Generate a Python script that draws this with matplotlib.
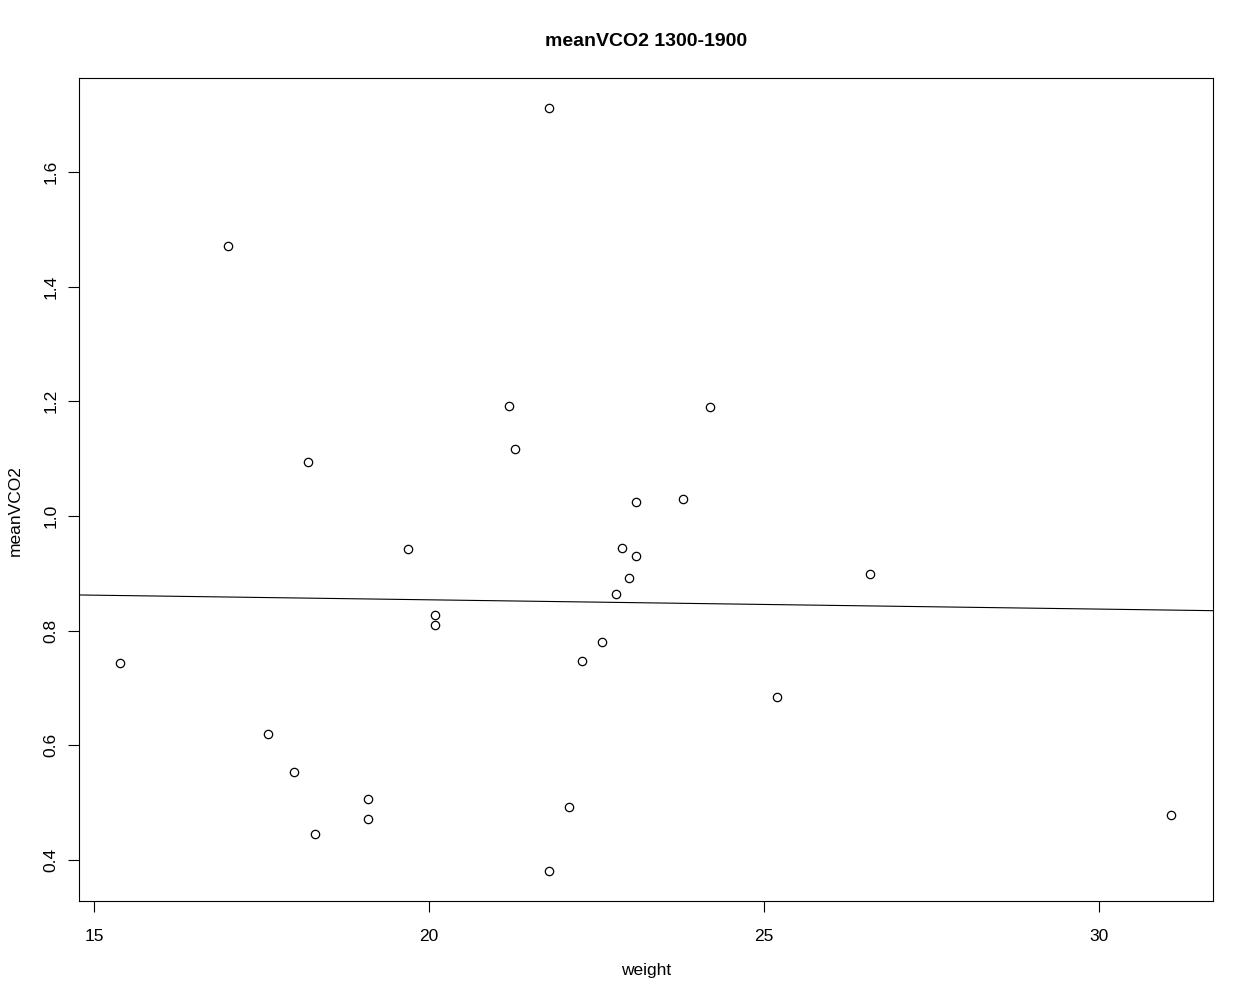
import matplotlib
matplotlib.use('Agg')
import matplotlib.pyplot as plt
import numpy as np

plt.rcParams['font.family'] = ['Liberation Sans', 'DejaVu Sans']

# weight vs meanVCO2
weight = [15.39, 17.0, 17.6, 17.99, 18.19, 18.30, 19.09, 19.09, 19.69, 20.09,
          20.09, 21.19, 21.28, 21.79, 21.79, 22.09, 22.28, 22.58, 22.79, 22.88,
          22.99, 23.09, 23.09, 23.79, 24.19, 25.19, 26.58, 31.07]
meanVCO2 = [0.744, 1.471, 0.620, 0.553, 1.094, 0.445, 0.506, 0.471, 0.942, 0.827,
            0.810, 1.192, 1.117, 1.711, 0.381, 0.492, 0.747, 0.780, 0.864, 0.944,
            0.892, 1.024, 0.930, 1.029, 1.190, 0.684, 0.899, 0.478]

x_ticks = [15, 20, 25, 30]
y_ticks = [0.4, 0.6, 0.8, 1.0, 1.2, 1.4, 1.6]

fig = plt.figure(figsize=(12.54, 10), dpi=100)
ax = fig.add_axes([0.063, 0.099, 0.9043, 0.823])

ax.plot(weight, meanVCO2, 'o', mfc='none', mec='black', ms=6, mew=0.9)

# least squares line
slope, intercept = np.polyfit(weight, meanVCO2, 1)
xl = np.array([14.0, 33.0])
ax.plot(xl, intercept + slope * xl, color='black', lw=0.8)

ax.set_xlim(14.776, 31.70)
ax.set_ylim(0.3285, 1.7636)
ax.set_xticks(x_ticks)
ax.set_xticklabels([str(t) for t in x_ticks])
ax.set_yticks(y_ticks)
ax.set_yticklabels(['%.1f' % t for t in y_ticks], rotation=90, va='center')
ax.tick_params(direction='out', length=8, width=0.8, labelsize=12.5)
ax.tick_params(axis='x', pad=12)
ax.tick_params(axis='y', pad=7)
for s in ax.spines.values():
    s.set_linewidth(0.8)

fig.text(0.515, 0.030, 'weight', fontsize=12.5, ha='center', va='center')
fig.text(0.012, 0.489, 'meanVCO2', fontsize=12.5, ha='center', va='center',
         rotation=90)
fig.text(0.515, 0.959, 'meanVCO2 1300-1900', fontsize=14, fontweight='bold',
         ha='center', va='center')

fig.savefig('out.png', dpi=100)
